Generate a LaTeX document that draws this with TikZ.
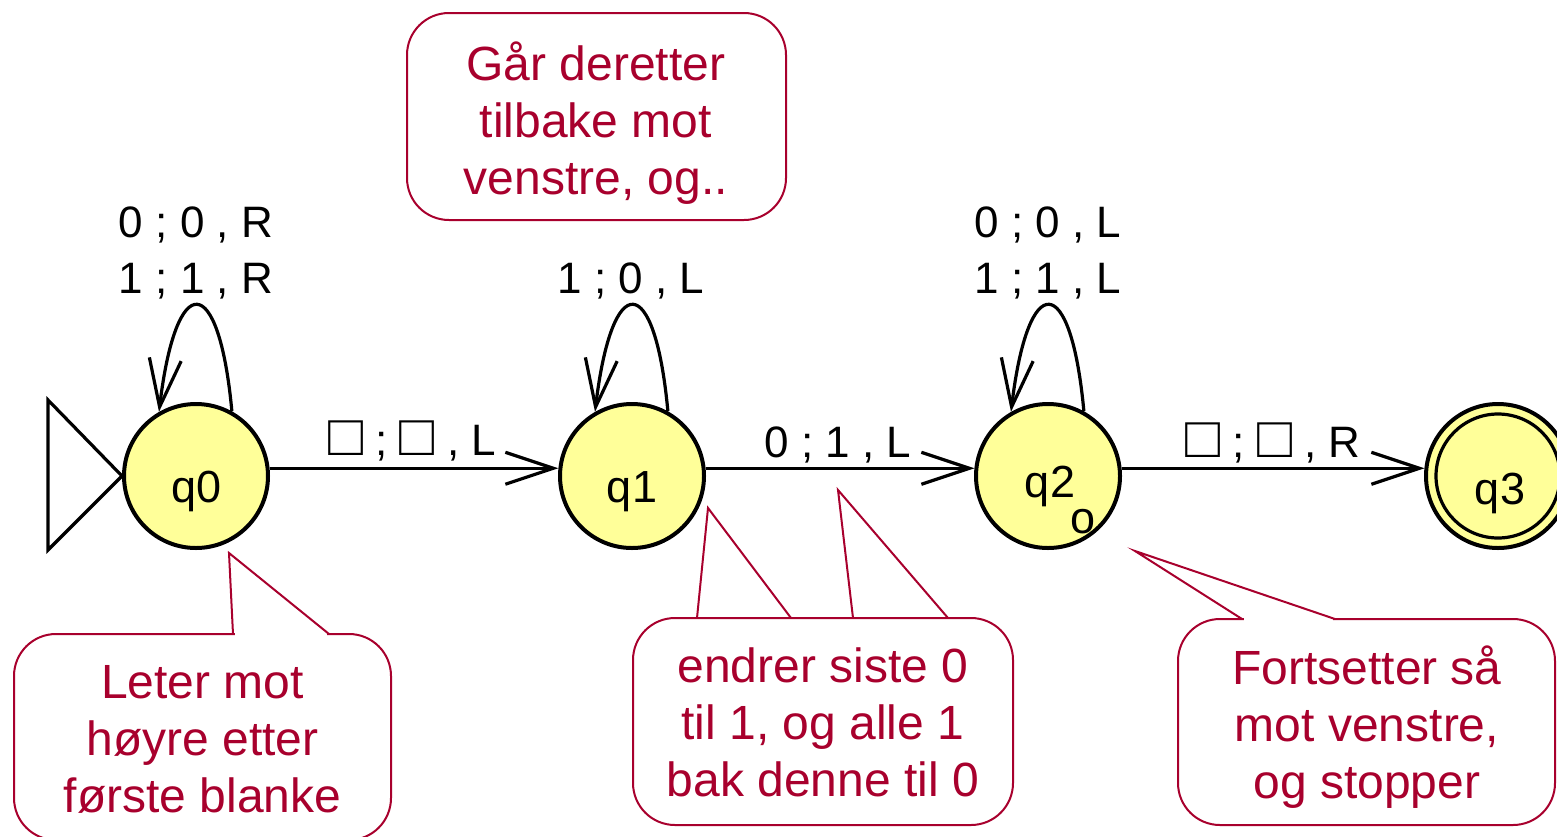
\documentclass[tikz,border=0pt]{standalone}
\usepackage{fontspec}
\setmainfont{Liberation Sans}
\usetikzlibrary{arrows.meta}
\definecolor{statefill}{RGB}{255,255,153}
\definecolor{callred}{RGB}{168,0,45}
\newcommand{\blanksym}{{\fontsize{58}{58}\selectfont □}}
\begin{document}
\begin{tikzpicture}[x=1pt,y=-1pt,
  state/.style={circle, draw=black, line width=4pt, fill=statefill, minimum size=144pt, inner sep=0pt},
  statetext/.style={anchor=base, font=\fontsize{45}{52}\selectfont, inner sep=0pt},
  edge/.style={draw=black, line width=3.2pt, -{Straight Barb[length=48pt,width=32pt]}},
  elabel/.style={anchor=base, font=\fontsize{44}{56}\selectfont, inner sep=0pt},
  callbox/.style={draw=callred, line width=2pt, rounded corners=42pt, fill=white, inner sep=0pt},
  calltext/.style={text=callred, align=center, font=\fontsize{48}{57}\selectfont, inner sep=0pt},
  pointer/.style={draw=callred, line width=2pt, line join=miter},
  gap/.style={draw=white, line width=3.5pt},
]
\useasboundingbox (0,0) rectangle (1557,836);

% states
\node[state] (q0) at (196,476) {};
\node[state] (q1) at (632,476) {};
\node[state] (q2) at (1048,476) {};
\node[state] (q3) at (1498,476) {};
\node[circle, draw=black, line width=3.2pt, minimum size=124pt, inner sep=0pt] (q3in) at (q3) {};
\node[statetext] (n0) at (197,502) {q0};
\node[statetext] (n1) at (632,502) {q1};
\node[statetext] (n2) at (1050,497) {q2};
\node[statetext] (n2o) at (1083,533) {o};
\node[statetext] (n3) at (1500,504) {q3};

% start marker
\coordinate (s1) at (48,400);
\coordinate (s2) at (48,550);
\draw[line width=3.2pt, line join=miter, fill=white] (s1) -- (s2) -- (q0.west) -- cycle;

% transitions
\draw[edge] (q0.6) -- (q1.174);
\draw[edge] (q1.6) -- (q2.174);
\draw[edge] (q2.6) -- (q3.174);
\draw[edge] (q0.61) .. controls +(-13,-141) and +(17,-143) .. (q0.120);
\draw[edge] (q1.61) .. controls +(-13,-141) and +(17,-143) .. (q1.120);
\draw[edge] (q2.61) .. controls +(-13,-141) and +(17,-143) .. (q2.120);

% labels
\node[elabel] (l01) at (412,455) {\blanksym{} ; \blanksym{} , L};
\node[elabel] (l12) at (838,457) {0 ; 1 , L};
\node[elabel] (l23) at (1273,457) {\blanksym{} ; \blanksym{} , R};
\node[elabel] (l00a) at (196,237) {0 ; 0 , R};
\node[elabel] (l00b) at (196,293) {1 ; 1 , R};
\node[elabel] (l11) at (631,293) {1 ; 0 , L};
\node[elabel] (l22a) at (1048,237) {0 ; 0 , L};
\node[elabel] (l22b) at (1048,293) {1 ; 1 , L};

% callouts
\node[callbox, minimum width=377pt, minimum height=206pt] (c1) at (202.5,737) {};
\node[callbox, minimum width=379pt, minimum height=207pt] (c2) at (596.5,116.5) {};
\node[callbox, minimum width=380pt, minimum height=207pt] (c3) at (823,721.5) {};
\node[callbox, minimum width=377pt, minimum height=206pt] (c4) at (1366.5,722) {};

\coordinate (p1a) at (233,634); \coordinate (p1) at (229,553); \coordinate (p1b) at (329,634);
\draw[gap] ([xshift=2pt]p1a) -- ([xshift=-2pt]p1b);
\draw[pointer] (p1a) -- (p1) -- (p1b);

\coordinate (p3a) at (697,618); \coordinate (p3) at (708,508); \coordinate (p3b) at (791,618);
\draw[pointer] (p3a) -- (p3) -- (p3b);
\coordinate (p3c) at (853,618); \coordinate (p3t) at (838,490); \coordinate (p3d) at (948,618);
\draw[pointer] (p3c) -- (p3t) -- (p3d);

\coordinate (p4a) at (1242,619); \coordinate (p4) at (1135,551); \coordinate (p4b) at (1335,619);
\draw[gap] ([xshift=2pt]p4a) -- ([xshift=-2pt]p4b);
\draw[pointer] (p4a) -- (p4) -- (p4b);

\node[calltext] (t1) at (202.5,739) {Leter mot\\høyre etter\\første blanke};
\node[calltext] (t2) at (596,123) {Går deretter\\tilbake mot\\venstre, og..};
\node[calltext] (t3) at (823,722.5) {endrer siste 0\\til 1, og alle 1\\bak denne til 0};
\node[calltext] (t4) at (1367,727) {Fortsetter så\\mot venstre,\\og stopper};
\end{tikzpicture}
\end{document}
